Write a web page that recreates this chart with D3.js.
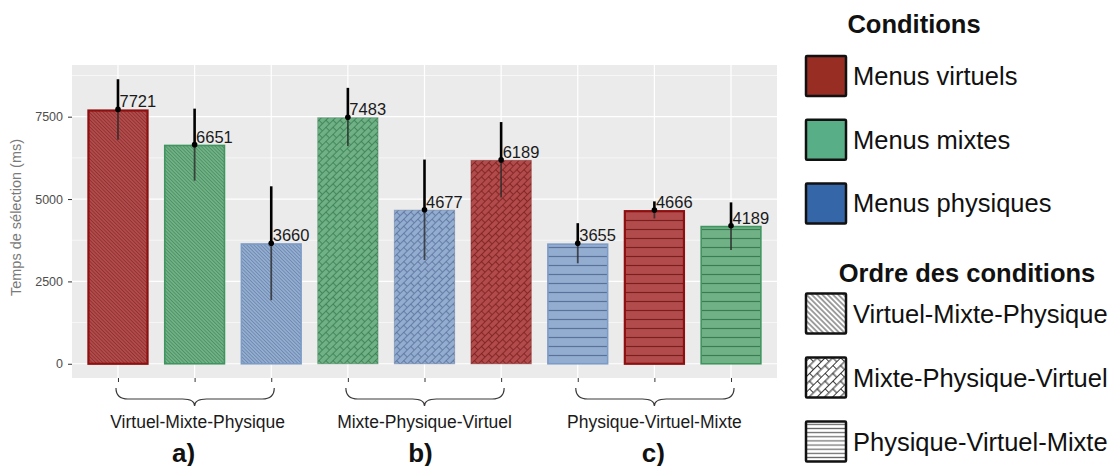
<!DOCTYPE html>
<html>
<head>
<meta charset="utf-8">
<script src="https://cdn.jsdelivr.net/npm/d3@7"></script>
<style>
  html, body { margin: 0; padding: 0; background: #ffffff; }
  svg { display: block; }
</style>
</head>
<body>
<svg id="chart" width="1117" height="466"></svg>
<script>
// ---------------- data ----------------
const orders = ["Virtuel-Mixte-Physique", "Mixte-Physique-Virtuel", "Physique-Virtuel-Mixte"];
const orderTags = ["a)", "b)", "c)"];
const conditions = ["Menus virtuels", "Menus mixtes", "Menus physiques"];
const barIds = ["1", "2", "3", "4", "5", "6", "7", "8", "9"];
const barOrder = [0, 0, 0, 1, 1, 1, 2, 2, 2];
const barCondition = ["Menus virtuels", "Menus mixtes", "Menus physiques",
                      "Menus mixtes", "Menus physiques", "Menus virtuels",
                      "Menus physiques", "Menus virtuels", "Menus mixtes"];
const means = [7721, 6651, 3660, 7483, 4677, 6189, 3655, 4666, 4189];
const lower = [6799, 5558, 1930, 6606, 3149, 5051, 3049, 4411, 3454];
const upper = [8637, 7744, 5387, 8375, 6199, 7337, 4268, 4930, 4899];
const yTicks = [0, 2500, 5000, 7500];
const yMinorTicks = [1250, 3750, 6250, 8750];
const yTitle = "Temps de sélection (ms)";
const legendTitle1 = "Conditions";
const legendTitle2 = "Ordre des conditions";

// ---------------- styles ----------------
const keyColor = { "Menus virtuels": "#982d23", "Menus mixtes": "#58ae87", "Menus physiques": "#3566a8" };
const barBg    = { "Menus virtuels": "#b24c4c", "Menus mixtes": "#70b286", "Menus physiques": "#93add1" };
const barLine  = { "Menus virtuels": "#7a1e1e", "Menus mixtes": "#3b7d52", "Menus physiques": "#5a7199" };
const stripeLine = { "Menus virtuels": "#8a2e2e", "Menus mixtes": "#4a8a60", "Menus physiques": "#6a82a8" };
const barEdge  = { "Menus virtuels": "#8e0f0f", "Menus mixtes": "#3f9560", "Menus physiques": "#7d9bc7" };

const svg = d3.select("#chart");
const defs = svg.append("defs");
const FONT = "'Liberation Sans', Arial, Helvetica, sans-serif";

const panel = { left: 72, right: 777, top: 65, bottom: 378 };

const x = d3.scalePoint().domain(barIds).range([panel.left, panel.right]).padding(0.6);
const step = x.step();
const barW = step * 0.8;
const yExt = d3.max(upper);
const y = d3.scaleLinear().domain([-0.05 * yExt, 1.05 * yExt]).range([panel.bottom, panel.top]);

// ---------------- patterns ----------------
function makePattern(id, kind, bg, line, scale, lw) {
  const s = scale || 1;
  if (kind === 0) { // diagonal "\" stripes
    const h = 2.5 * s;
    const p = defs.append("pattern").attr("id", id).attr("patternUnits", "userSpaceOnUse")
      .attr("width", 10).attr("height", h).attr("patternTransform", "rotate(45)");
    p.append("rect").attr("width", 10).attr("height", h).attr("fill", bg);
    p.append("line").attr("x1", 0).attr("x2", 10).attr("y1", h / 2).attr("y2", h / 2)
      .attr("stroke", line).attr("stroke-width", lw || 0.8);
  } else if (kind === 1) { // brick / weave
    const w = 10 * s, hh = 5 * s;
    const p = defs.append("pattern").attr("id", id).attr("patternUnits", "userSpaceOnUse")
      .attr("width", w).attr("height", 2 * hh).attr("patternTransform", "rotate(-45)");
    p.append("rect").attr("width", w).attr("height", 2 * hh).attr("fill", bg);
    const path = `M0,0.4H${w} M0,${hh + 0.4}H${w} M0.4,0V${hh} M${w / 2 + 0.4},${hh}V${2 * hh}`;
    p.append("path").attr("d", path).attr("stroke", line).attr("stroke-width", lw || 0.9).attr("fill", "none");
  } else { // horizontal lines
    const h = 9 * s;
    const p = defs.append("pattern").attr("id", id).attr("patternUnits", "userSpaceOnUse")
      .attr("width", 10).attr("height", h);
    p.append("rect").attr("width", 10).attr("height", h).attr("fill", bg);
    p.append("line").attr("x1", 0).attr("x2", 10).attr("y1", h / 2).attr("y2", h / 2)
      .attr("stroke", line).attr("stroke-width", lw || 1.2);
  }
}

barIds.forEach((id, i) => {
  const c = barCondition[i];
  makePattern("bar" + id, barOrder[i], barBg[c], barOrder[i] === 0 ? stripeLine[c] : barLine[c]);
});
makePattern("key0", 0, "#ffffff", "#555555", 1.5, 1.1);
makePattern("key1", 1, "#ffffff", "#222222", 1.1, 1);
makePattern("key2", 2, "#ffffff", "#666666", 0.46, 1.2);

// ---------------- panel ----------------
svg.append("rect").attr("x", panel.left).attr("y", panel.top)
  .attr("width", panel.right - panel.left).attr("height", panel.bottom - panel.top)
  .attr("fill", "#ebebeb");

const grid = svg.append("g");
grid.selectAll(".minor").data(yMinorTicks).join("line")
  .attr("x1", panel.left).attr("x2", panel.right)
  .attr("y1", d => y(d)).attr("y2", d => y(d))
  .attr("stroke", "#ffffff").attr("stroke-width", 0.6);
grid.selectAll(".major").data(yTicks).join("line")
  .attr("x1", panel.left).attr("x2", panel.right)
  .attr("y1", d => y(d)).attr("y2", d => y(d))
  .attr("stroke", "#ffffff").attr("stroke-width", 1.2);
grid.selectAll(".vmajor").data(barIds).join("line")
  .attr("x1", d => x(d)).attr("x2", d => x(d))
  .attr("y1", panel.top).attr("y2", panel.bottom)
  .attr("stroke", "#ffffff").attr("stroke-width", 1.2);

// ---------------- bars ----------------
const bars = svg.append("g");
barIds.forEach((id, i) => {
  const c = barCondition[i];
  const sw = barOrder[i] === 1 ? 1 : (c === "Menus virtuels" ? 2.2 : 1.6);
  bars.append("rect")
    .attr("x", x(id) - barW / 2 + sw / 2)
    .attr("y", y(means[i]) + sw / 2)
    .attr("width", barW - sw)
    .attr("height", y(0) - y(means[i]) - sw / 2)
    .attr("fill", `url(#bar${id})`)
    .attr("stroke", barOrder[i] === 1 ? barLine[c] : barEdge[c])
    .attr("stroke-opacity", barOrder[i] === 1 ? 0.45 : 1)
    .attr("stroke-width", sw);
});

// error bars
const eb = svg.append("g");
barIds.forEach((id, i) => {
  eb.append("line").attr("x1", x(id)).attr("x2", x(id))
    .attr("y1", y(lower[i])).attr("y2", y(means[i]))
    .attr("stroke", "#2a2a2a").attr("stroke-opacity", 0.8).attr("stroke-width", 1.8);
  eb.append("line").attr("x1", x(id)).attr("x2", x(id))
    .attr("y1", y(means[i])).attr("y2", y(upper[i]))
    .attr("stroke", "#000000").attr("stroke-width", 2.6);
  eb.append("circle").attr("cx", x(id)).attr("cy", y(means[i])).attr("r", 2.8).attr("fill", "#000");
  eb.append("text").attr("x", x(id) + 1.5).attr("y", y(means[i]) - 2)
    .attr("font-family", FONT).attr("font-size", 16.5).attr("fill", "#1a1a1a")
    .text(means[i]);
});

// ---------------- axes ----------------
const yAxis = d3.axisLeft(y).tickValues(yTicks).tickSize(4).tickPadding(5).tickFormat(d3.format("d"));
const yg = svg.append("g").attr("transform", `translate(${panel.left},0)`).call(yAxis);
yg.select(".domain").remove();
yg.selectAll(".tick line").attr("stroke", "#333333").attr("stroke-width", 1);
yg.selectAll(".tick text").attr("font-family", "'Liberation Sans Narrow', 'Liberation Sans', Arial, sans-serif")
  .attr("font-size", 12.5).attr("fill", "#4d4d4d");

const xAxis = d3.axisBottom(x).tickSize(4).tickFormat("");
const xg = svg.append("g").attr("transform", `translate(0,${panel.bottom})`).call(xAxis);
xg.select(".domain").remove();
xg.selectAll(".tick line").attr("stroke", "#333333").attr("stroke-width", 1);

svg.append("text")
  .attr("transform", `translate(21,${(panel.top + panel.bottom) / 2 - 4}) rotate(-90)`)
  .attr("text-anchor", "middle").attr("font-family", FONT).attr("font-size", 14.5)
  .attr("fill", "#7a7a7a").text(yTitle);

// ---------------- group braces & labels ----------------
const tagNudge = [-11, -4, -1];
const labelNudge = [3, 0, 0];
const br = svg.append("g");
orders.forEach((o, g) => {
  const ids = barIds.filter((d, i) => barOrder[i] === g);
  const x0 = x(ids[0]) - 2, x1 = x(ids[ids.length - 1]) + 3;
  const xm = x(ids[1]);
  const yTop = 388, yMid = 399, yTip = 406, q = 12;
  const d = `M${x0},${yTop} Q${x0},${yMid} ${x0 + q},${yMid} L${xm - q},${yMid} Q${xm},${yMid} ${xm},${yTip}` +
            ` Q${xm},${yMid} ${xm + q},${yMid} L${x1 - q},${yMid} Q${x1},${yMid} ${x1},${yTop}`;
  br.append("path").attr("d", d).attr("fill", "none").attr("stroke", "#3a3a3a").attr("stroke-width", 1.2);
  br.append("text").attr("x", xm + labelNudge[g]).attr("y", 428).attr("text-anchor", "middle")
    .attr("font-family", FONT).attr("font-size", 17.5).attr("fill", "#1a1a1a").text(o);
  br.append("text").attr("x", xm + tagNudge[g]).attr("y", 461.5).attr("text-anchor", "middle")
    .attr("font-family", FONT).attr("font-weight", "bold").attr("font-size", 26).attr("fill", "#111").text(orderTags[g]);
});

// ---------------- legends ----------------
const lg = svg.append("g").attr("font-family", FONT);
lg.append("text").attr("x", 914).attr("y", 33).attr("text-anchor", "middle")
  .attr("font-weight", "bold").attr("font-size", 25.5).attr("fill", "#111").text(legendTitle1);
const keyTops1 = d3.scaleLinear().domain([0, 1]).range([56, 119.7]);
conditions.forEach((c, i) => {
  const t = keyTops1(i);
  lg.append("rect").attr("x", 806).attr("y", t).attr("width", 40).attr("height", 40).attr("rx", 1)
    .attr("fill", keyColor[c]).attr("stroke", "#111").attr("stroke-width", 2.5);
  lg.append("text").attr("x", 853).attr("y", t + 29).attr("font-size", 25.5).attr("fill", "#111").text(c);
});

lg.append("text").attr("x", 967).attr("y", 281.5).attr("text-anchor", "middle")
  .attr("font-weight", "bold").attr("font-size", 25.5).attr("fill", "#111").text(legendTitle2);
const keyTops2 = d3.scaleLinear().domain([0, 1]).range([293.5, 357.5]);
orders.forEach((o, i) => {
  const t = keyTops2(i);
  lg.append("rect").attr("x", 806).attr("y", t).attr("width", 40).attr("height", 40).attr("rx", 1)
    .attr("fill", `url(#key${i})`).attr("stroke", "#111").attr("stroke-width", 2.5);
  lg.append("text").attr("x", 853).attr("y", t + 29).attr("font-size", 25.5).attr("fill", "#111").text(o);
});
</script>
</body>
</html>
